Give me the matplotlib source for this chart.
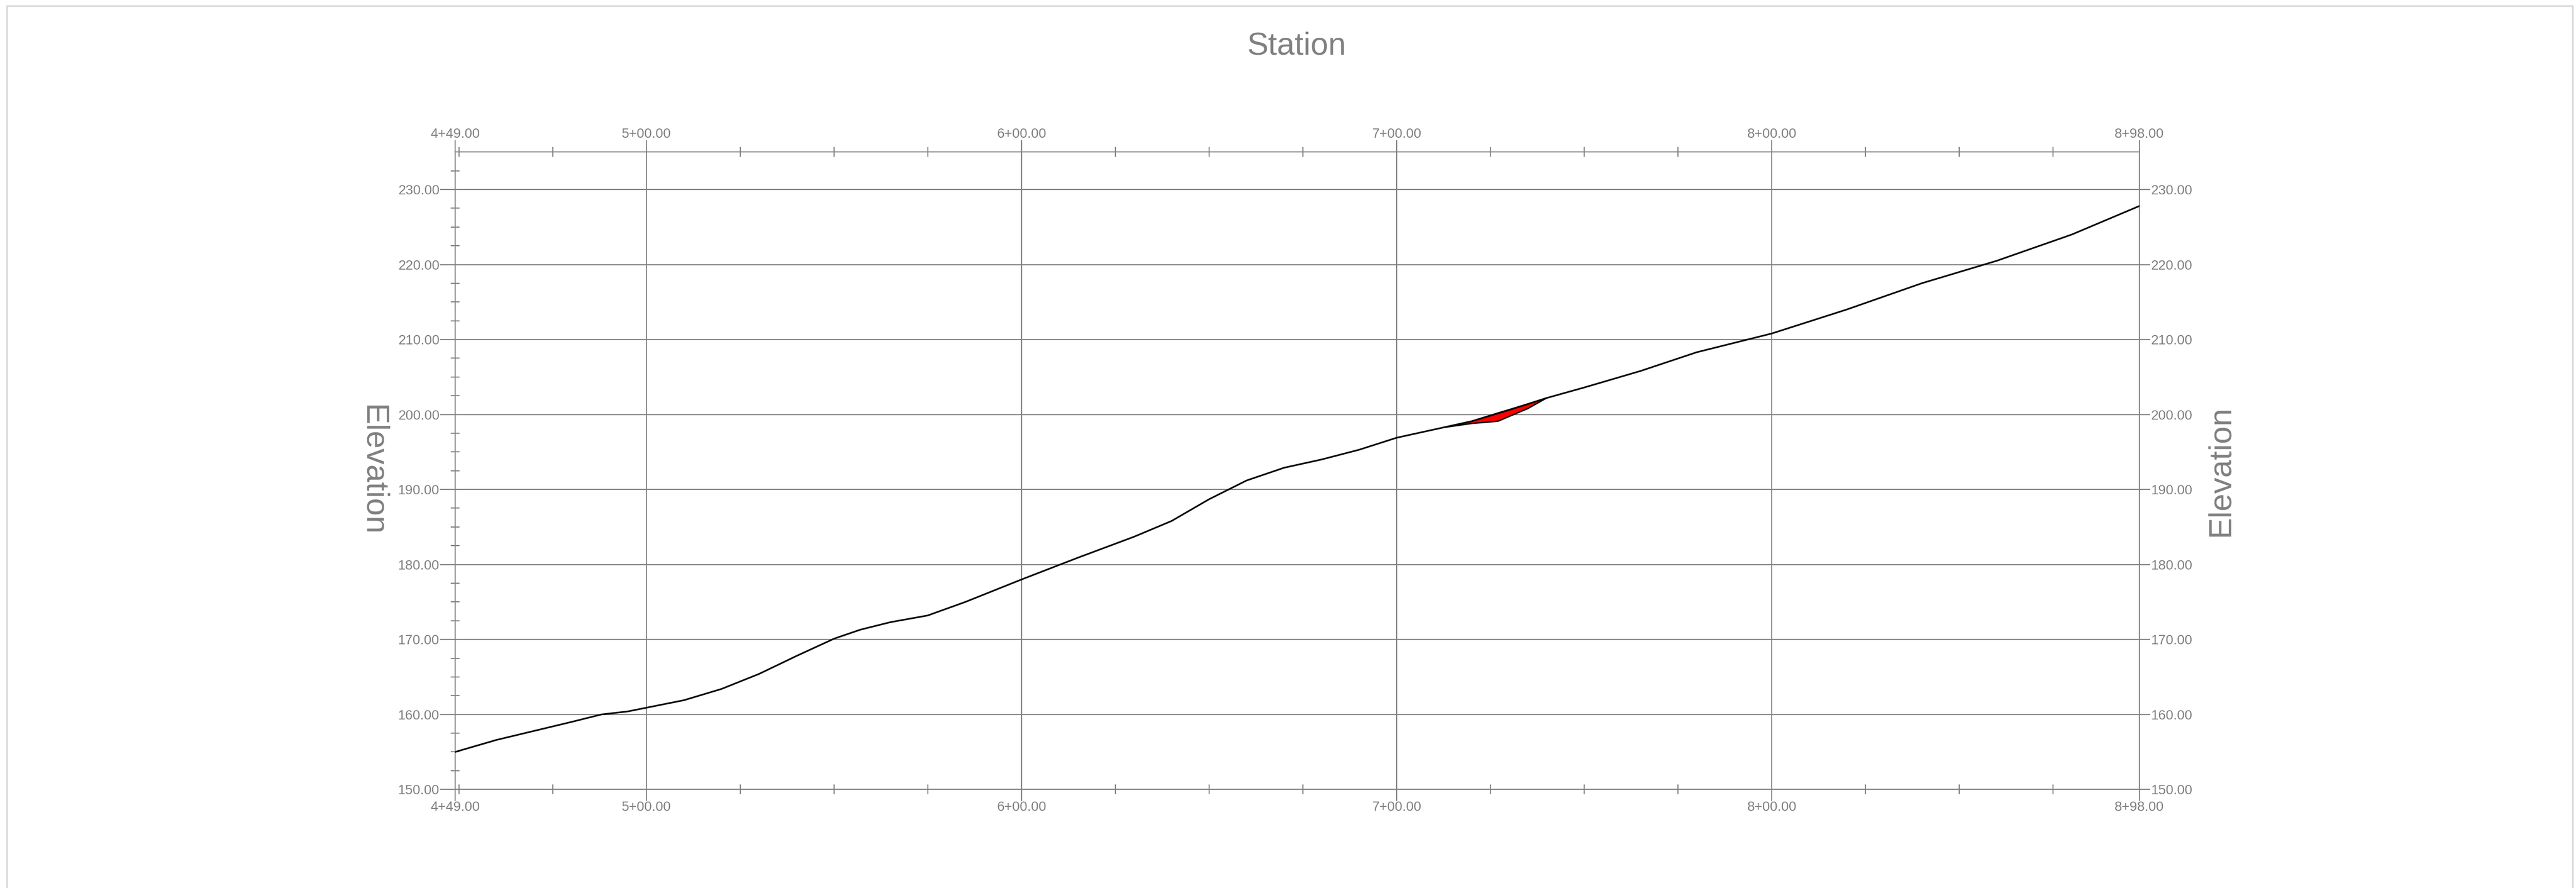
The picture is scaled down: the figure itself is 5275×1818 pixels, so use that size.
import matplotlib
matplotlib.use("Agg")
import matplotlib.pyplot as plt
from matplotlib.patches import Rectangle
from matplotlib.ticker import FixedLocator, FuncFormatter

plt.rcParams['font.family'] = ['Liberation Sans', 'DejaVu Sans']

GRAY = "#808080"

# ground profile (station in feet, elevation)
stations = [449, 460, 470, 480, 488, 495, 500, 510, 520, 530, 540, 550, 557, 565,
            575, 585, 600, 615, 630, 640, 650, 660, 670, 680, 690, 700, 710, 720,
            730, 740, 750, 765, 780, 800, 820, 840, 860, 880, 898]
elevations = [155.0, 156.6, 157.8, 159.0, 160.0, 160.4, 160.9, 161.9, 163.4, 165.4,
              167.8, 170.1, 171.3, 172.3, 173.2, 175.0, 178.0, 180.9, 183.7, 185.8,
              188.7, 191.2, 192.9, 194.0, 195.3, 196.9, 198.0, 199.1, 200.6, 202.2,
              203.6, 205.8, 208.3, 210.8, 214.0, 217.5, 220.5, 224.0, 227.8]

# cut area (red)
cut_stations = [713, 720, 727, 735, 740]
cut_top = [198.3, 199.1, 200.2, 201.4, 202.2]
cut_bottom = [198.3, 198.8, 199.1, 200.8, 202.2]

x_major = [449, 500, 600, 700, 800, 898]
x_minor = [450, 475, 525, 550, 575, 625, 650, 675, 725, 750, 775, 825, 850, 875]
y_major = [150, 160, 170, 180, 190, 200, 210, 220, 230]
y_minor = [152.5, 155, 157.5, 162.5, 165, 167.5, 172.5, 175, 177.5, 182.5, 185, 187.5,
           192.5, 195, 197.5, 202.5, 205, 207.5, 212.5, 215, 217.5, 222.5, 225, 227.5,
           232.5]


def station_fmt(v, pos):
    v = int(round(v))
    return "%d+%02d.00" % (v // 100, v % 100)


fig = plt.figure(figsize=(52.75, 18.18), dpi=100)
ax = fig.add_axes([0.1767, 0.111, 0.6538, 0.7178])

ax.fill(cut_stations + cut_stations[::-1], cut_top + cut_bottom[::-1],
        facecolor="red", edgecolor="black", linewidth=2, zorder=3)
ax.plot(stations, elevations, color="black", linewidth=2.4, zorder=4)

ax.set_xlim(449, 898)
ax.set_ylim(150, 235)

ax.xaxis.set_major_locator(FixedLocator(x_major))
ax.xaxis.set_minor_locator(FixedLocator(x_minor))
ax.xaxis.set_major_formatter(FuncFormatter(station_fmt))
ax.yaxis.set_major_locator(FixedLocator(y_major))
ax.yaxis.set_minor_locator(FixedLocator(y_minor))
ax.yaxis.set_major_formatter(FuncFormatter(lambda v, p: "%.2f" % v))

ax.grid(True, which="major", color=GRAY, linewidth=1.6)
for s in ax.spines.values():
    s.set_color(GRAY)
    s.set_linewidth(1.6)

ax.tick_params(axis="x", which="major", direction="out", length=17, width=1.6,
               color=GRAY, labelcolor=GRAY, labelsize=20, pad=0,
               top=True, labeltop=True, bottom=True, labelbottom=True)
ax.tick_params(axis="x", which="minor", direction="inout", length=14, width=1.6,
               color=GRAY, top=True, bottom=True)
ax.tick_params(axis="y", which="major", direction="out", length=22, width=1.6,
               color=GRAY, labelcolor=GRAY, labelsize=20, pad=1,
               left=True, labelleft=True, right=False)
ax.tick_params(axis="y", which="minor", direction="inout", length=13, width=1.6,
               color=GRAY, left=True, right=True)

ax2 = ax.twinx()
ax2.set_ylim(150, 235)
ax2.yaxis.set_major_locator(FixedLocator(y_major))
ax2.yaxis.set_minor_locator(FixedLocator([]))
ax2.yaxis.set_major_formatter(FuncFormatter(lambda v, p: "%.2f" % v))
ax2.tick_params(axis="y", which="major", direction="out", length=16, width=1.6,
                color=GRAY, labelcolor=GRAY, labelsize=20, pad=1)
for s in ax2.spines.values():
    s.set_visible(False)

fig.text(0.5035, 0.948, "Station", color=GRAY, fontsize=47, ha="center", va="center")
fig.text(0.1446, 0.47, "Elevation", color=GRAY, fontsize=47, ha="center", va="center",
         rotation=-90)
fig.text(0.862, 0.47, "Elevation", color=GRAY, fontsize=47, ha="center", va="center",
         rotation=90)

fig.patches.append(Rectangle((14 / 5275, -0.01), 5254 / 5275, 1.01 - 12 / 1818,
                             transform=fig.transFigure, fill=False,
                             edgecolor="#d9d9d9", linewidth=2.5))

fig.savefig("out.png", dpi=100)
